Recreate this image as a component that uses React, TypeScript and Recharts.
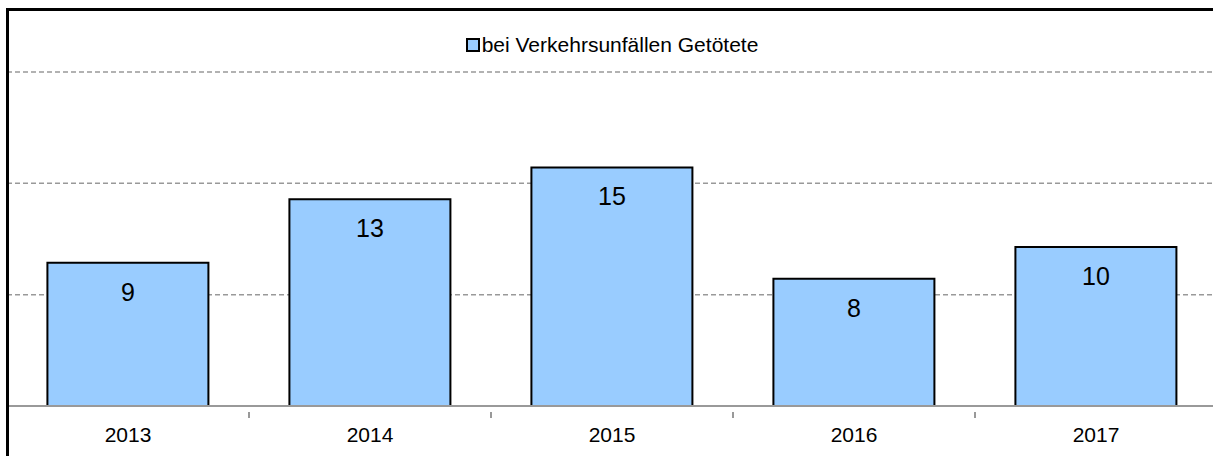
import React from 'react';
import { BarChart, Bar, XAxis, YAxis, CartesianGrid, Legend, LabelList } from 'recharts';

const years = ['2013', '2014', '2015', '2016', '2017'];
const killed = [9, 13, 15, 8, 10];
const yTicks = [0, 7, 14, 21];
const seriesName = 'bei Verkehrsunfällen Getötete';

const data = years.map((year, i) => ({ year, killed: killed[i] }));

// label at the category centre, small tick mark on the boundary to the next category
const YearTick = (props: any) => {
  const { x, y, payload, index } = props;
  const half = payload.offset || 0;
  const last = index === years.length - 1;
  return (
    <g>
      {!last && (
        <line x1={x + half} x2={x + half} y1={y - 15} y2={y - 9} stroke="#999" strokeWidth={2} />
      )}
      <text x={x} y={y} dy="0.71em" textAnchor="middle" fill="#000" fontSize={21}>
        {payload.value}
      </text>
    </g>
  );
};

const LegendContent = (props: any) => {
  const items = props.payload || [];
  return (
    <div style={{ height: 42, display: 'flex', justifyContent: 'center', alignItems: 'flex-start', paddingTop: 2, boxSizing: 'border-box' }}>
      {items.map((item: any) => (
        <div key={item.value} style={{ display: 'flex', alignItems: 'center', fontSize: 21, lineHeight: '26px', color: '#000' }}>
          <span style={{ width: 10, height: 10, border: '2px solid #000', background: item.color, marginRight: 2, display: 'inline-block' }} />
          {item.value}
        </div>
      ))}
    </div>
  );
};

export default function App() {
  React.useEffect(() => {
    document.body.style.margin = '0';
    document.documentElement.style.overflow = 'hidden';
  }, []);
  return (
    <div style={{ position: 'relative', width: 1213, height: 456, overflow: 'hidden', background: '#fff', fontFamily: '"Liberation Sans", Arial, sans-serif' }}>
      <BarChart
        width={1224}
        height={456}
        data={data}
        margin={{ top: 30, right: 7, left: 7, bottom: 0 }}
        barCategoryGap="16.7%"
      >
        <CartesianGrid vertical={false} stroke="#999" strokeDasharray="5 3" strokeWidth={1.5} />
        <YAxis hide domain={[0, 21]} ticks={yTicks} />
        <XAxis
          dataKey="year"
          height={50}
          tickLine={false}
          tickMargin={15}
          axisLine={{ stroke: '#999', strokeWidth: 2 }}
          tick={<YearTick />}
        />
        <Legend verticalAlign="top" content={<LegendContent />} />
        <Bar dataKey="killed" name={seriesName} fill="#99ccff" stroke="#000" strokeWidth={2} isAnimationActive={false}>
          <LabelList dataKey="killed" position="insideTop" offset={20} fill="#000" fontSize={25} />
        </Bar>
      </BarChart>
      <div style={{ position: 'absolute', left: 6, top: 8, right: 0, bottom: 0, borderLeft: '3px solid #000', borderTop: '3px solid #000', pointerEvents: 'none' }} />
    </div>
  );
}
